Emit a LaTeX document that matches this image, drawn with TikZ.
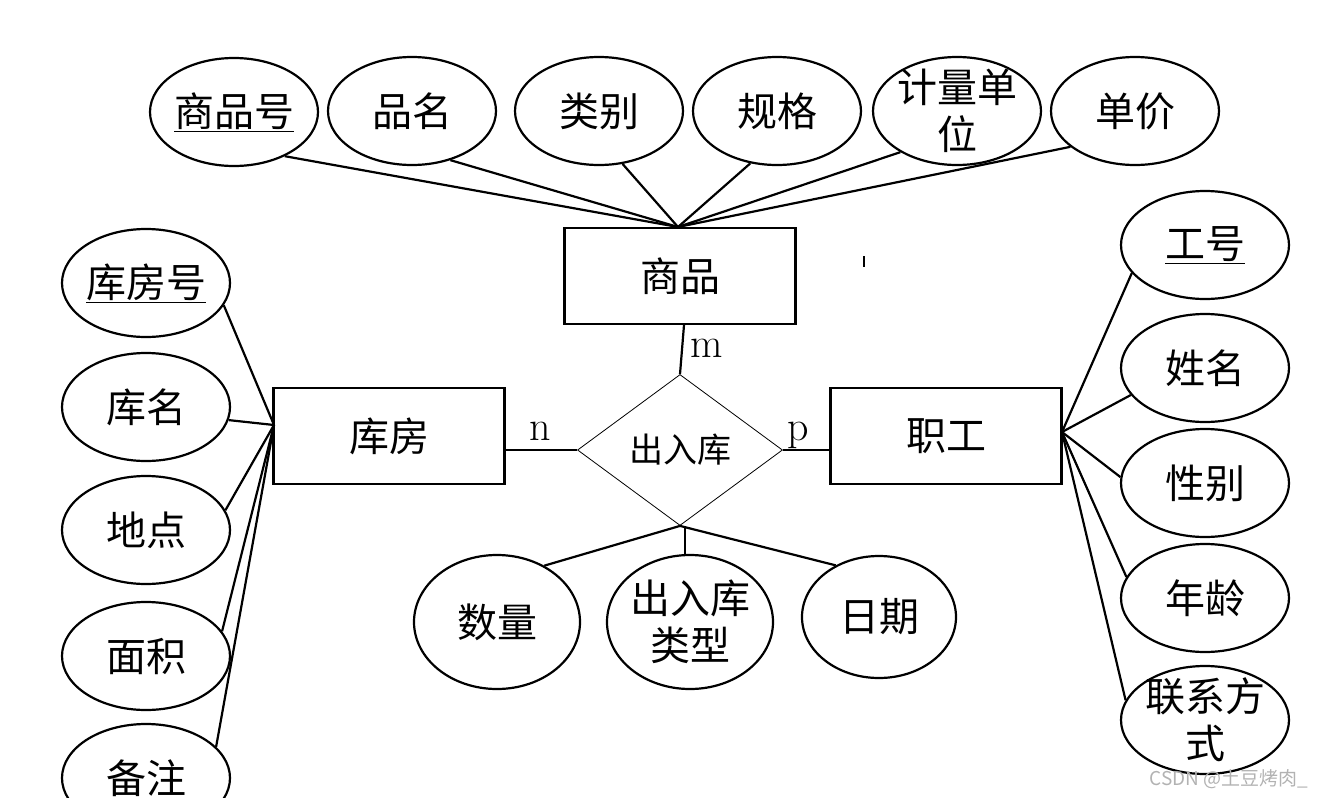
\documentclass[tikz,border=0pt]{standalone}
\usepackage{fontspec}
\newfontfamily\cjk{Noto Sans CJK SC}
\usetikzlibrary{shapes.geometric,positioning}

\begin{document}
\begin{tikzpicture}[x=1pt,y=-1pt,
  attr/.style={ellipse, draw=black, line width=2.2pt, minimum width=168pt, minimum height=108pt, inner sep=0pt},
  ent/.style={rectangle, draw=black, line width=2.2pt, minimum width=231pt, minimum height=96pt, font={\cjk\fontsize{40}{44}\selectfont}},
  rel/.style={diamond, draw=black, line width=0.8pt, minimum width=205pt, minimum height=151pt, inner sep=0pt, aspect=1.36, font={\cjk\fontsize{34}{38}\selectfont}},
  link/.style={line width=2.2pt},
  card/.style={anchor=base, font={\fontsize{42}{42}\selectfont}},
  every label/.style={font={\cjk\fontsize{40}{47}\selectfont}, align=center}
]
\useasboundingbox (0,0) rectangle (1323,798);

% entities and relationship
\node[ent] (sp) at (680,276) {商品};
\node[ent] (kf) at (389,436) {库房};
\node[ent] (zg) at (946,436) {职工};
\node[rel] (crk) at (680,450) {出入库};

% goods attributes
\node[attr, label={center:\underline{商品号}}] (spno) at (234,112) {};
\node[attr, label={center:品名}] (spname) at (412,111) {};
\node[attr, label={center:类别}] (splb) at (599,111) {};
\node[attr, label={center:规格}] (spgg) at (777,111) {};
\node[attr, label={center:计量单\\位}] (spdw) at (957,111) {};
\node[attr, label={center:单价}] (spdj) at (1135,111) {};

% warehouse attributes
\node[attr, label={center:\underline{库房号}}] (kfno) at (146,283) {};
\node[attr, label={center:库名}] (kfname) at (146,407) {};
\node[attr, label={center:地点}] (kfdd) at (146,530) {};
\node[attr, label={center:面积}] (kfmj) at (146,656) {};
\node[attr, label={center:备注}] (kfbz) at (146,778) {};

% staff attributes
\node[attr, label={center:\underline{工号}}] (zgno) at (1205,245) {};
\node[attr, label={center:姓名}] (zgname) at (1205,368) {};
\node[attr, label={center:性别}] (zgxb) at (1205,483) {};
\node[attr, label={center:年龄}] (zgnl) at (1205,598) {};
\node[attr, label={center:联系方\\式}] (zglx) at (1205,720) {};

% relationship attributes
\node[attr, minimum width=166pt, minimum height=134pt, label={center:数量}] (sl) at (497,622) {};
\node[attr, minimum width=166pt, minimum height=134pt, label={center:出入库\\类型}] (lx) at (690,622) {};
\node[attr, minimum width=154pt, minimum height=122pt, label={center:日期}] (rq) at (879,617) {};

% meeting points of the attribute lines
\coordinate (spT) at (678,227);
\coordinate (kfL) at (274,425);
\coordinate (zgR) at (1062,432);

\foreach \a/\ang in {spno/-41,spname/-52,splb/-66,spgg/-117,spdw/-144,spdj/-151}
  \draw[link] (\a.\ang) -- (spT);
\foreach \a/\ang in {kfno/-16,kfname/-9,kfdd/14,kfmj/18,kfbz/24}
  \draw[link] (\a.\ang) -- (kfL);
\foreach \a/\ang in {zgno/-159,zgname/-160,zgxb/176,zgnl/165,zglx/166}
  \draw[link] (\a.\ang) -- (zgR);
\draw[link] (sl.50) -- (crk.south);
\draw[link] (rq.130) -- (crk.south);
\draw[link] ([xshift=-5pt]lx.north) -- ([xshift=-5pt]lx.north |- crk.south);

\draw[link] ([xshift=4pt]sp.south) -- (crk.north);
\draw[link] (crk.west) -- (kf.east |- crk.west);
\draw[link] (crk.east) -- (zg.west |- crk.east);

\node[card] (cm) at (707,357) {m};
\node[card] (cn) at (540,440) {n};
\node[card] (cp) at (798,440) {p};

\draw[line width=2.2pt] (864,256) -- (864,267);
\node[anchor=east, text=gray!60, font={\cjk\fontsize{19}{19}\selectfont}] (wm) at (1312,779) {CSDN @土豆烤肉\_};
\end{tikzpicture}
\end{document}
